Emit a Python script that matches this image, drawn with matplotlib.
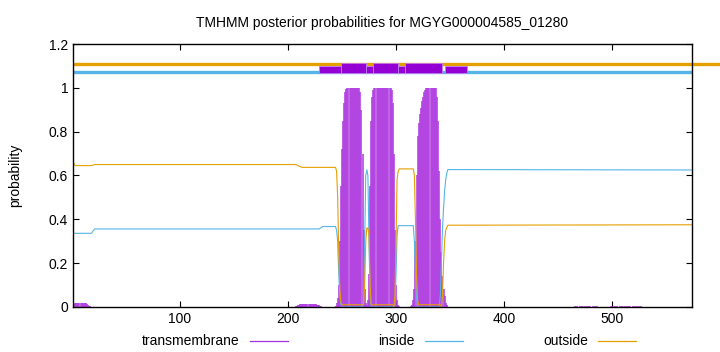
import matplotlib
matplotlib.use("Agg")
import matplotlib.pyplot as plt
from matplotlib.lines import Line2D
from matplotlib.patches import Rectangle

plt.rcParams["font.family"] = ["Liberation Sans", "DejaVu Sans"]

seq_len = 574
title = "TMHMM posterior probabilities for MGYG000004585_01280"

# transmembrane posterior per residue (only non-zero residues listed)
tm_pos = list(range(1, 18)) + list(range(207, 233)) + list(range(244, 348)) \
    + list(range(466, 487, 2)) + list(range(499, 528, 2))
tm_val = (
    [0.015] + [0.02] * 12 + [0.015, 0.01, 0.006, 0.003]
    + [0.004, 0.006, 0.008, 0.01, 0.012, 0.012, 0.013, 0.013, 0.013, 0.013,
       0.013, 0.013, 0.013, 0.013, 0.013, 0.013, 0.013, 0.012, 0.012, 0.012,
       0.011, 0.01, 0.008, 0.006, 0.004, 0.002]
    # 244-273
    + [0.005, 0.02, 0.04, 0.1, 0.3, 0.55, 0.72, 0.85, 0.93, 0.98,
       0.995, 1.0, 1.0, 1.0, 1.0, 1.0, 1.0, 1.0, 1.0, 1.0,
       1.0, 1.0, 1.0, 0.98, 0.9, 0.7, 0.35, 0.08, 0.02, 0.01]
    # 274-303
    + [0.03, 0.15, 0.55, 0.85, 0.96, 0.99, 1.0, 1.0, 1.0, 1.0,
       1.0, 1.0, 1.0, 1.0, 1.0, 1.0, 1.0, 1.0, 1.0, 1.0,
       1.0, 1.0, 0.99, 0.93, 0.7, 0.35, 0.1, 0.03, 0.01, 0.005]
    # 304-347
    + [0.0, 0.0, 0.0, 0.0, 0.0, 0.0, 0.0, 0.0, 0.0, 0.0,
       0.005, 0.01, 0.03, 0.08, 0.3, 0.6, 0.78, 0.84, 0.88, 0.91,
       0.94, 0.96, 0.98, 0.99, 1.0, 1.0, 1.0, 1.0, 1.0, 1.0,
       1.0, 1.0, 1.0, 1.0, 0.96, 0.85, 0.62, 0.4, 0.25, 0.14,
       0.08, 0.05, 0.02, 0.01]
    + [0.003] * 11 + [0.003] * 15
)

# inside / outside posterior, read at breakpoints
inside_pos = [1, 18, 21, 229, 232, 244, 245, 246, 247, 248, 249, 250, 269,
              270, 271, 272, 273, 274, 275, 276, 277, 298, 299, 300, 301, 302,
              316, 317, 318, 319, 320, 340, 341, 342, 343, 344, 345, 346, 347,
              348, 574]
inside_val = [0.336, 0.336, 0.356, 0.356, 0.367, 0.367, 0.35, 0.3, 0.15, 0.05,
              0.01, 0.0, 0.0, 0.02, 0.3, 0.6, 0.626, 0.6, 0.3, 0.05, 0.0, 0.0,
              0.0, 0.15, 0.33, 0.371, 0.371, 0.3, 0.15, 0.05, 0.0, 0.0, 0.05,
              0.2, 0.35, 0.45, 0.53, 0.58, 0.61, 0.627, 0.625]

outside_pos = [1, 3, 18, 21, 207, 213, 244, 245, 246, 247, 248, 249, 250,
               269, 270, 271, 272, 273, 274, 275, 276, 277, 297, 298, 299, 300,
               301, 302, 303, 316, 317, 318, 319, 320, 321, 341, 342, 343, 344,
               345, 346, 348, 574]
outside_val = [0.66, 0.645, 0.645, 0.65, 0.65, 0.637, 0.637, 0.62, 0.5, 0.25,
               0.08, 0.02, 0.01, 0.01, 0.01, 0.1, 0.3, 0.36, 0.36, 0.33, 0.1,
               0.01, 0.01, 0.0, 0.05, 0.3, 0.58, 0.62, 0.63, 0.63, 0.6, 0.4,
               0.15, 0.03, 0.01, 0.01, 0.0, 0.05, 0.2, 0.3, 0.35, 0.373, 0.375]

# predicted topology strip on top
strip_low = [(229, 249), (272, 279), (302, 308), (345, 366)]
strip_tm = [(249, 272), (279, 302), (308, 343)]

purple = "#9400d3"
blue = "#56b4e9"
orange = "#e69f00"

fig = plt.figure(figsize=(7.2, 3.52), dpi=100)
ax = fig.add_axes([0.1014, 0.128, 0.8597, 0.747])

ax.vlines(tm_pos, 0, tm_val, color="#b03ee0", lw=1.15)
ax.plot(inside_pos, inside_val, color=blue, lw=0.8)
ax.plot(outside_pos, outside_val, color=orange, lw=0.8)

# topology strip
ax.plot([1, 600], [1.11, 1.11], color=orange, lw=2.4, clip_on=False, solid_capstyle="butt")
ax.plot([1, seq_len], [1.07, 1.07], color=blue, lw=2.4, solid_capstyle="butt")
for a, b in strip_low:
    ax.add_patch(Rectangle((a, 1.068), b - a, 0.032, facecolor=purple,
                           edgecolor="#c080f0", lw=0.6, zorder=3))
for a, b in strip_tm:
    ax.add_patch(Rectangle((a, 1.068), b - a, 0.047, facecolor=purple,
                           edgecolor="#c080f0", lw=0.6, zorder=3))

ax.set_xlim(1, seq_len)
ax.set_ylim(0, 1.2)
ax.set_xticks([100, 200, 300, 400, 500])
ax.set_yticks([0, 0.2, 0.4, 0.6, 0.8, 1.0, 1.2])
ax.set_yticklabels(["0", "0.2", "0.4", "0.6", "0.8", "1", "1.2"])
ax.tick_params(direction="in", top=True, right=True, labelsize=10, length=4, width=0.8)
for s in ax.spines.values():
    s.set_linewidth(1.0)
ax.set_ylabel("probability", fontsize=10)
ax.yaxis.set_label_coords(-0.082, 0.5)
ax.set_title(title, fontsize=10, pad=12)

# legend row below the axis
items = [("transmembrane", "#a030e0", 0.333), ("inside", blue, 0.576), ("outside", orange, 0.817)]
for label, col, xr in items:
    fig.text(xr, 0.031, label, ha="right", va="center", fontsize=10)
    fig.add_artist(Line2D([xr + 0.014, xr + 0.067], [0.031, 0.031], color=col, lw=0.9))

fig.savefig("out.png", dpi=100)
